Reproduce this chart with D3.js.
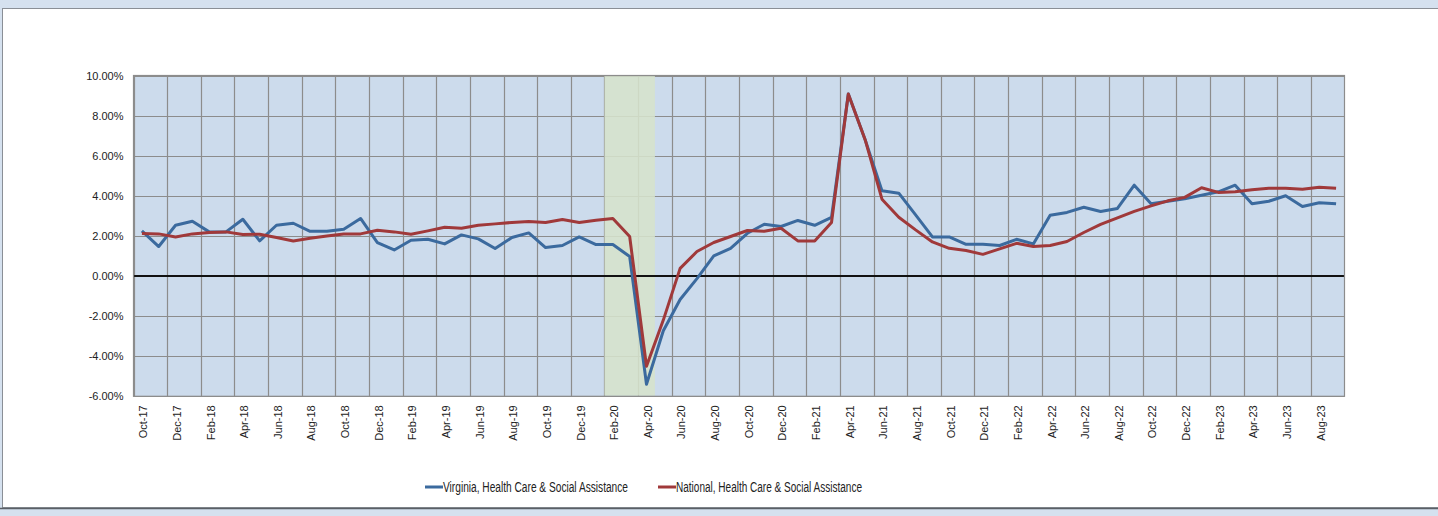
<!DOCTYPE html>
<html>
<head>
<meta charset="utf-8">
<script src="https://cdn.jsdelivr.net/npm/d3@7"></script>
<style>
  html, body { margin: 0; padding: 0; background: #d5e1ef; }
  svg { display: block; }
  text { font-family: "Liberation Sans", Arial, sans-serif; }
</style>
</head>
<body>
<div id="chart"></div>
<script>
(function() {
  'use strict';

  const months = [
    'Oct-17','Nov-17','Dec-17','Jan-18','Feb-18','Mar-18','Apr-18','May-18','Jun-18','Jul-18','Aug-18','Sep-18',
    'Oct-18','Nov-18','Dec-18','Jan-19','Feb-19','Mar-19','Apr-19','May-19','Jun-19','Jul-19','Aug-19','Sep-19',
    'Oct-19','Nov-19','Dec-19','Jan-20','Feb-20','Mar-20','Apr-20','May-20','Jun-20','Jul-20','Aug-20','Sep-20',
    'Oct-20','Nov-20','Dec-20','Jan-21','Feb-21','Mar-21','Apr-21','May-21','Jun-21','Jul-21','Aug-21','Sep-21',
    'Oct-21','Nov-21','Dec-21','Jan-22','Feb-22','Mar-22','Apr-22','May-22','Jun-22','Jul-22','Aug-22','Sep-22',
    'Oct-22','Nov-22','Dec-22','Jan-23','Feb-23','Mar-23','Apr-23','May-23','Jun-23','Jul-23','Aug-23','Sep-23'
  ];

  // percent change, Virginia
  const virginia = [
    2.25, 1.47, 2.53, 2.73, 2.20, 2.20, 2.83, 1.75, 2.53, 2.63, 2.23, 2.23,
    2.33, 2.87, 1.67, 1.30, 1.78, 1.83, 1.60, 2.05, 1.85, 1.37, 1.92, 2.15,
    1.42, 1.52, 1.95, 1.57, 1.57, 0.97, -5.40, -2.73, -1.17, -0.13, 1.00, 1.38,
    2.13, 2.58, 2.47, 2.77, 2.53, 2.92, 9.08, 6.80, 4.25, 4.13, 3.05, 1.95,
    1.95, 1.58, 1.58, 1.52, 1.83, 1.60, 3.03, 3.17, 3.43, 3.22, 3.37, 4.53,
    3.60, 3.73, 3.85, 4.03, 4.20, 4.53, 3.60, 3.73, 4.00, 3.47, 3.65, 3.60
  ];

  // percent change, National
  const national = [
    2.12, 2.10, 1.95, 2.10, 2.17, 2.20, 2.07, 2.08, 1.92, 1.75, 1.88, 2.00,
    2.10, 2.10, 2.28, 2.20, 2.08, 2.25, 2.43, 2.38, 2.53, 2.60, 2.67, 2.72,
    2.67, 2.82, 2.67, 2.78, 2.87, 1.97, -4.50, -2.20, 0.38, 1.22, 1.67, 1.97,
    2.27, 2.23, 2.38, 1.75, 1.75, 2.67, 9.08, 6.80, 3.83, 2.93, 2.30, 1.70,
    1.38, 1.27, 1.08, 1.35, 1.63, 1.47, 1.52, 1.72, 2.17, 2.57, 2.90, 3.22,
    3.50, 3.75, 3.92, 4.40, 4.17, 4.20, 4.30, 4.38, 4.38, 4.33, 4.43, 4.38
  ];

  const yTicks = [-6, -4, -2, 0, 2, 4, 6, 8, 10];
  const recession = ['Feb-20', 'Apr-20'];
  const seriesNames = ['Virginia, Health Care & Social Assistance', 'National, Health Care & Social Assistance'];

  const width = 1438;
  const height = 516;
  const margin = {top: 75.5, right: 93.5, bottom: 120, left: 133.5};
  const colors = ['#3b6a9e', '#a0393a'];

  const svg = d3.select('#chart')
    .append('svg')
    .attr('width', width)
    .attr('height', height);

  // outer frame
  svg.append('rect')
    .attr('x', 0).attr('y', 0)
    .attr('width', width).attr('height', height)
    .attr('fill', '#d5e1ef');
  svg.append('rect')
    .attr('x', 2.5).attr('y', 8.5)
    .attr('width', width).attr('height', 499)
    .attr('fill', '#fff')
    .attr('stroke', '#8a8f96');
  svg.append('line')
    .attr('x1', 0).attr('x2', width)
    .attr('y1', 508.5).attr('y2', 508.5)
    .attr('stroke', '#5a5f66').attr('stroke-width', 1.5);

  const x = d3.scaleBand()
    .domain(months)
    .range([margin.left, width - margin.right])
    .paddingInner(0)
    .paddingOuter(0);

  const y = d3.scaleLinear()
    .domain([-6, 10])
    .range([396.3, margin.top]);

  const g = svg.append('g');

  // plot background
  g.append('rect')
    .attr('x', x.range()[0])
    .attr('y', y(10))
    .attr('width', x.range()[1] - x.range()[0])
    .attr('height', y(-6) - y(10))
    .attr('fill', '#ccdbec');

  // vertical gridlines every second month
  const gridMonths = months.filter((d, i) => i % 2 === 0);
  g.selectAll('.vgrid')
    .data(gridMonths)
    .enter()
    .append('line')
    .attr('class', 'vgrid')
    .attr('x1', d => Math.round(x(d)) + 0.5)
    .attr('x2', d => Math.round(x(d)) + 0.5)
    .attr('y1', y(10))
    .attr('y2', y(-6))
    .attr('stroke', '#8c8c8c')
    .attr('stroke-width', 1.2);

  g.selectAll('.hgrid')
    .data(yTicks)
    .enter()
    .append('line')
    .attr('class', 'hgrid')
    .attr('x1', x.range()[0])
    .attr('x2', x.range()[1])
    .attr('y1', d => Math.round(y(d)) + 0.5)
    .attr('y2', d => Math.round(y(d)) + 0.5)
    .attr('stroke', '#8c8c8c')
    .attr('stroke-width', 1.2);

  // recession band
  g.append('rect')
    .attr('x', x(recession[0]))
    .attr('y', y(10) + 0.5)
    .attr('width', x(recession[1]) + x.bandwidth() - x(recession[0]))
    .attr('height', y(-6) - y(10) - 1)
    .attr('fill', '#d6e2cc')
    .attr('fill-opacity', 0.88);

  // zero line
  g.append('line')
    .attr('x1', x.range()[0])
    .attr('x2', x.range()[1])
    .attr('y1', y(0))
    .attr('y2', y(0))
    .attr('stroke', '#111')
    .attr('stroke-width', 2);

  // plot border
  g.append('rect')
    .attr('x', x.range()[0])
    .attr('y', y(10))
    .attr('width', x.range()[1] - x.range()[0])
    .attr('height', y(-6) - y(10))
    .attr('fill', 'none')
    .attr('stroke', '#8c8c8c')
    .attr('stroke-width', 1.2);

  const line = d3.line()
    .x((d, i) => x(months[i]) + x.bandwidth() / 2)
    .y(d => y(d));

  [virginia, national].forEach((series, k) => {
    g.append('path')
      .datum(series)
      .attr('d', line)
      .attr('fill', 'none')
      .attr('stroke', colors[k])
      .attr('stroke-width', 3)
      .attr('stroke-linejoin', 'round');
  });

  // y axis
  const yAxis = svg.append('g')
    .attr('transform', 'translate(' + (x.range()[0] - 10) + ',0)')
    .call(d3.axisLeft(y).tickValues(yTicks).tickSize(0).tickPadding(0)
      .tickFormat(d => d.toFixed(2) + '%'));
  yAxis.select('.domain').remove();
  yAxis.selectAll('text')
    .attr('font-size', 11)
    .attr('fill', '#222');

  // x axis
  const xAxis = svg.append('g')
    .attr('transform', 'translate(0,' + y(-6) + ')')
    .call(d3.axisBottom(x).tickValues(gridMonths).tickSize(0).tickPadding(0));
  xAxis.select('.domain').remove();
  xAxis.selectAll('text')
    .attr('font-size', 11)
    .attr('fill', '#222')
    .attr('text-anchor', 'end')
    .attr('dy', '0.35em')
    .attr('transform', 'translate(1.5,9) rotate(-90)')
    .attr('x', 0)
    .attr('y', 0);

  // legend
  const legendX = [425, 658];
  const legendTextWidth = [185, 186];
  const legend = svg.selectAll('.legend')
    .data(seriesNames)
    .enter()
    .append('g')
    .attr('class', 'legend')
    .attr('transform', (d, i) => 'translate(' + legendX[i] + ',487)');

  legend.append('line')
    .attr('x1', 0).attr('x2', 18)
    .attr('y1', 0).attr('y2', 0)
    .attr('stroke', (d, i) => colors[i])
    .attr('stroke-width', 3);

  legend.append('text')
    .attr('x', 18)
    .attr('y', 0)
    .attr('dy', '0.35em')
    .attr('font-size', 14)
    .attr('fill', '#222')
    .attr('textLength', (d, i) => legendTextWidth[i])
    .attr('lengthAdjust', 'spacingAndGlyphs')
    .text(d => d);
})();
</script>
</body>
</html>
